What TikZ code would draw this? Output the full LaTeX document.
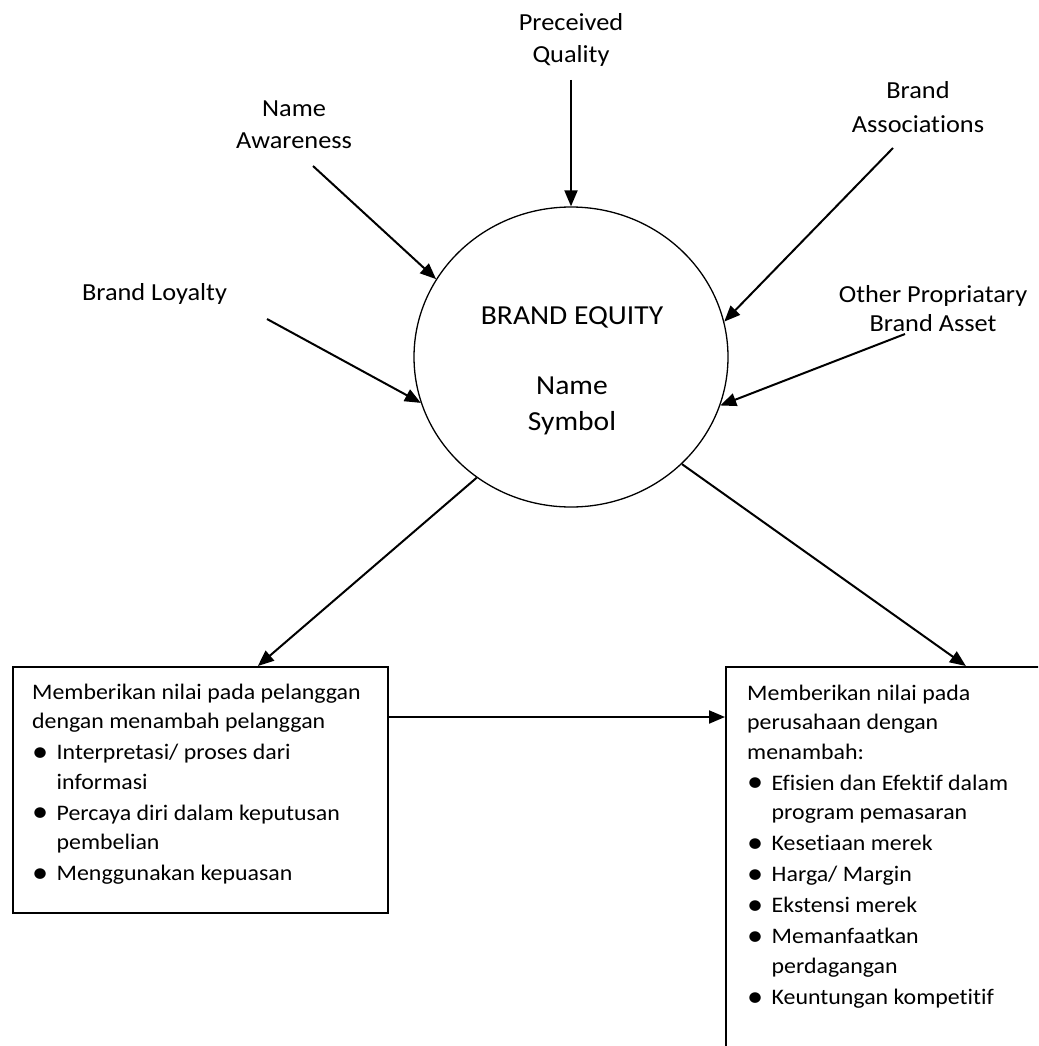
\documentclass[tikz,border=0pt]{standalone}
\usepackage{fontspec}
\setmainfont{Carlito}[FakeStretch=1.075,Ligatures={NoCommon}]
\usetikzlibrary{shapes.geometric,arrows.meta,calc}
\newcommand{\bitem}{\noindent\hangindent=24.5pt\hangafter=1\makebox[24.5pt][l]{\raisebox{-1.6pt}{\fontsize{30}{30}\selectfont\textbullet}}}
\begin{document}
\begin{tikzpicture}[x=1pt,y=-1pt,
  lbl/.style={font=\fontsize{24.5}{31}\selectfont, inner sep=0pt, anchor=base},
  eqtxt/.style={font=\fontsize{27.5}{35}\selectfont, inner sep=0pt, anchor=base},
  arr/.style={line width=2pt, -{Triangle[length=16pt,width=13pt]}},
  box/.style={draw, line width=1.5pt, inner sep=0pt, anchor=north west},
  boxtxt/.style={inner sep=0pt, anchor=base west, font=\fontsize{22.2}{29.6}\selectfont}
]
\useasboundingbox (0,0) rectangle (1038,1046);

% central ellipse
\node[ellipse, draw, line width=1.3pt, minimum width=314pt, minimum height=300pt, inner sep=0pt] (eq) at (571,357) {};
\node[eqtxt] (eq1) at (572,324) {BRAND EQUITY};
\node[eqtxt] (eq2) at (572,394) {Name};
\node[eqtxt] (eq3) at (572,430) {Symbol};

% labels
\node[lbl] (pq1) at (571,30.7) {Preceived};
\node[lbl] (pq2) at (571,63) {Quality};
\node[lbl] (na1) at (294,117) {Name};
\node[lbl] (na2) at (294,148) {Awareness};
\node[lbl] (ba1) at (918,99) {Brand};
\node[lbl] (ba2) at (918,132) {Associations};
\node[lbl] (bl) at (154.5,300) {Brand Loyalty};
\node[lbl] (ob1) at (933,302) {Other Propriatary};
\node[lbl] (ob2) at (933,331) {Brand Asset};

% arrow starts
\coordinate (pqs) at (571,80);
\coordinate (nas) at (313,166);
\coordinate (bas) at (893,148);
\coordinate (bls) at (267,319);
\coordinate (obs) at (905,334);

\draw[arr] (pqs) -- (eq.north);
\draw[arr] (nas) -- (eq.150);
\draw[arr] (bas) -- (eq.13.6);
\draw[arr] (bls) -- (eq.197.8);
\draw[arr] (obs) -- (eq.342.3);

% boxes
\node[box, minimum width=375pt, minimum height=246pt] (lbox) at (12,666) {};
\begin{scope}
\clip (0,0) rectangle (1038,1046);
\node[box, minimum width=400pt, minimum height=450pt] (rbox) at (725,666) {};
\end{scope}

\node[boxtxt] (ltxt) at (32,699) {\parbox[t]{360pt}{\raggedright\setlength{\parskip}{1.4pt}%
Memberikan nilai pada pelanggan\\ dengan menambah pelanggan\par
\bitem Interpretasi/ proses dari\newline informasi\par
\bitem Percaya diri dalam keputusan\newline pembelian\par
\bitem Menggunakan kepuasan}};

\node[boxtxt] (rtxt) at (747,700) {\parbox[t]{300pt}{\raggedright\setlength{\parskip}{1.4pt}%
Memberikan nilai pada\\ perusahaan dengan\\ menambah:\par
\bitem Efisien dan Efektif dalam\newline program pemasaran\par
\bitem Kesetiaan merek\par
\bitem Harga/ Margin\par
\bitem Ekstensi merek\par
\bitem Memanfaatkan\newline perdagangan\par
\bitem Keuntungan kompetitif}};

\draw[arr] (eq.232.2) -- ($(lbox.north west)!0.653!(lbox.north east)$);
\draw[arr] (eq.316.8) -- ($(rbox.north west)!0.6!(rbox.north east)$);
\draw[arr] ([yshift=-51pt]lbox.north east) -- ([yshift=-51pt]rbox.north west);
\end{tikzpicture}
\end{document}
